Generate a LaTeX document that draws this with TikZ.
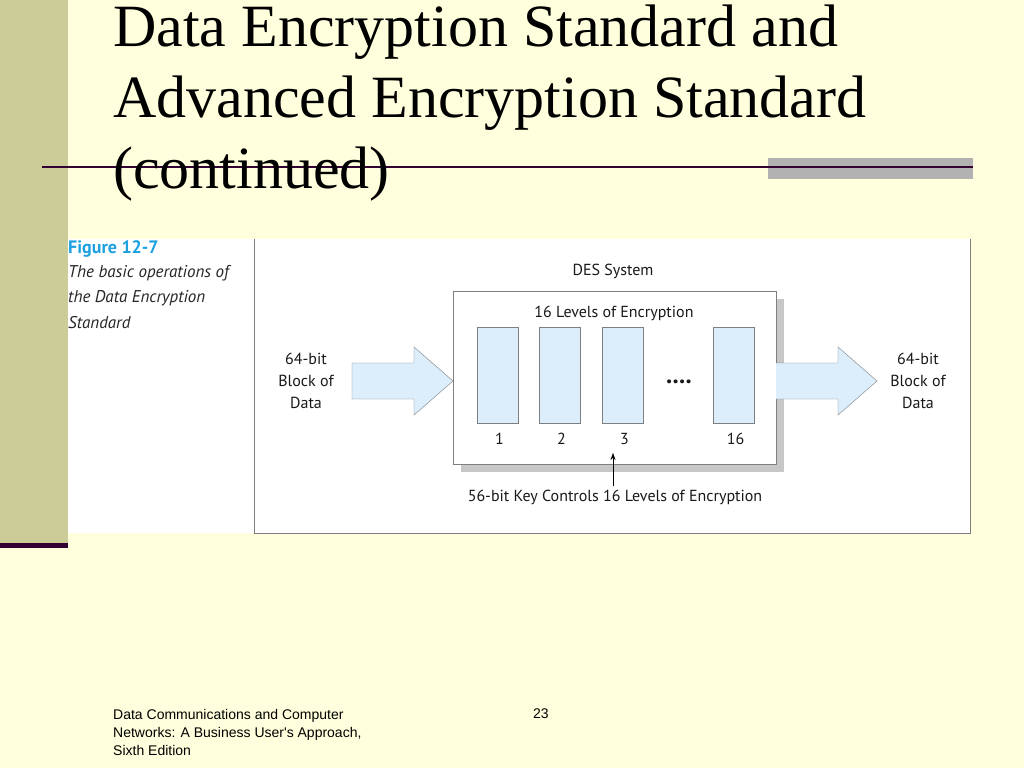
\documentclass[tikz,border=0pt]{standalone}
\usepackage{fontspec}
\setmainfont{Liberation Serif}
\newfontfamily\figfont{PT Sans}
\newfontfamily\footfont{Liberation Sans}
\usetikzlibrary{arrows.meta,positioning}
\definecolor{slidebg}{HTML}{FFFFDD}
\definecolor{khaki}{HTML}{CCCC99}
\definecolor{plum}{HTML}{330033}
\definecolor{barGray}{HTML}{B2B2B2}
\definecolor{lvlBlue}{HTML}{DCEEFC}
\definecolor{edgeGray}{HTML}{7F7F7F}
\definecolor{figBlue}{HTML}{1BA0E0}
\begin{document}
\begin{tikzpicture}[x=1pt,y=-1pt,
    figtext/.style={font=\figfont\fontsize{16}{22}\selectfont,inner sep=0pt,align=center,text=black!90},
    lvl/.style={draw=edgeGray,fill=lvlBlue,minimum width=41pt,minimum height=96pt,inner sep=0pt},
    title/.style={font=\fontsize{60}{71}\selectfont,anchor=base west,inner sep=0pt}]
  \useasboundingbox[fill=slidebg] (0,0) rectangle (1024,768);
  % slide frame
  \fill[khaki] (0,0) rectangle (68,543);
  \fill[plum] (0,543) rectangle (68,548);
  \fill[white] (68,239) rectangle (970,533);
  \draw[edgeGray] (254,239) -- (254,533) -- (970,533) -- (970,239);
  \fill[barGray] (768,158) rectangle (973,179);
  \draw[plum,line width=2pt] (42,167) -- (973,167);
  \node[title] (t1) at (113,46) {Data Encryption Standard and};
  \node[title] (t2) at (113,117) {Advanced Encryption Standard};
  \node[title] (t3) at (113,188) {(continued)};
  % caption
  \node[font=\figfont\bfseries\fontsize{18}{22}\selectfont,text=figBlue,anchor=base west,inner sep=0pt] (fig) at (68,253) {Figure 12-7};
  \node[font=\figfont\itshape\fontsize{17}{25.5}\selectfont,anchor=north west,inner sep=0pt,align=left,text=black!85] (cap) at (68,265)
    {The basic operations of\\the Data Encryption\\Standard};
  % DES box
  \fill[black!22] (461,299) rectangle (784,472);
  \node[draw=edgeGray,fill=white,minimum width=323pt,minimum height=173pt,inner sep=0pt] (des) at (614.5,377.5) {};
  \node[figtext] (sys) at (613,271) {DES System};
  \node[figtext] (lev) at (614,313) {16 Levels of Encryption};
  \foreach \n/\x in {1/497.5,2/559.5,3/622.5,16/733.5}{
    \node[lvl] (l\n) at (\x,375) {};
    \node[figtext,text height=11pt,below=10pt of l\n.south,xshift=2pt] (n\n) {\n};
  }
  \node[figtext,font=\figfont\bfseries\fontsize{25}{25}\selectfont] (dots) at (679,382) {....};
  % arrows in and out
  \draw[edgeGray,fill=lvlBlue] (352,363) -- (414,363) -- (414,347) -- (453,381) -- (414,415) -- (414,399) -- (352,399) -- cycle;
  \fill[lvlBlue] (776,363) -- (838,363) -- (838,347) -- (877,381) -- (838,415) -- (838,399) -- (776,399) -- cycle;
  \draw[edgeGray] (776,363) -- (838,363) -- (838,347) -- (877,381) -- (838,415) -- (838,399) -- (776,399);
  \node[figtext] (inblk) at (306,381) {64-bit\\Block of\\Data};
  \node[figtext] (outblk) at (918,381) {64-bit\\Block of\\Data};
  % key
  \node[figtext] (key) at (615,497) {56-bit Key Controls 16 Levels of Encryption};
  \coordinate (keytip) at (613,453);
  \draw[-{Stealth[length=7pt,width=5pt]}] (key.north -| keytip) ++(0,-3) -- (keytip);
  % footer
  \node[font=\footfont\fontsize{14}{18}\selectfont,anchor=north west,inner sep=0pt,align=left] (foot) at (113,709)
    {Data Communications and Computer\\Networks: A Business User's Approach,\\Sixth Edition};
  \node[font=\footfont\fontsize{14}{18}\selectfont,anchor=north west,inner sep=0pt] (page) at (533,709) {23};
\end{tikzpicture}
\end{document}
